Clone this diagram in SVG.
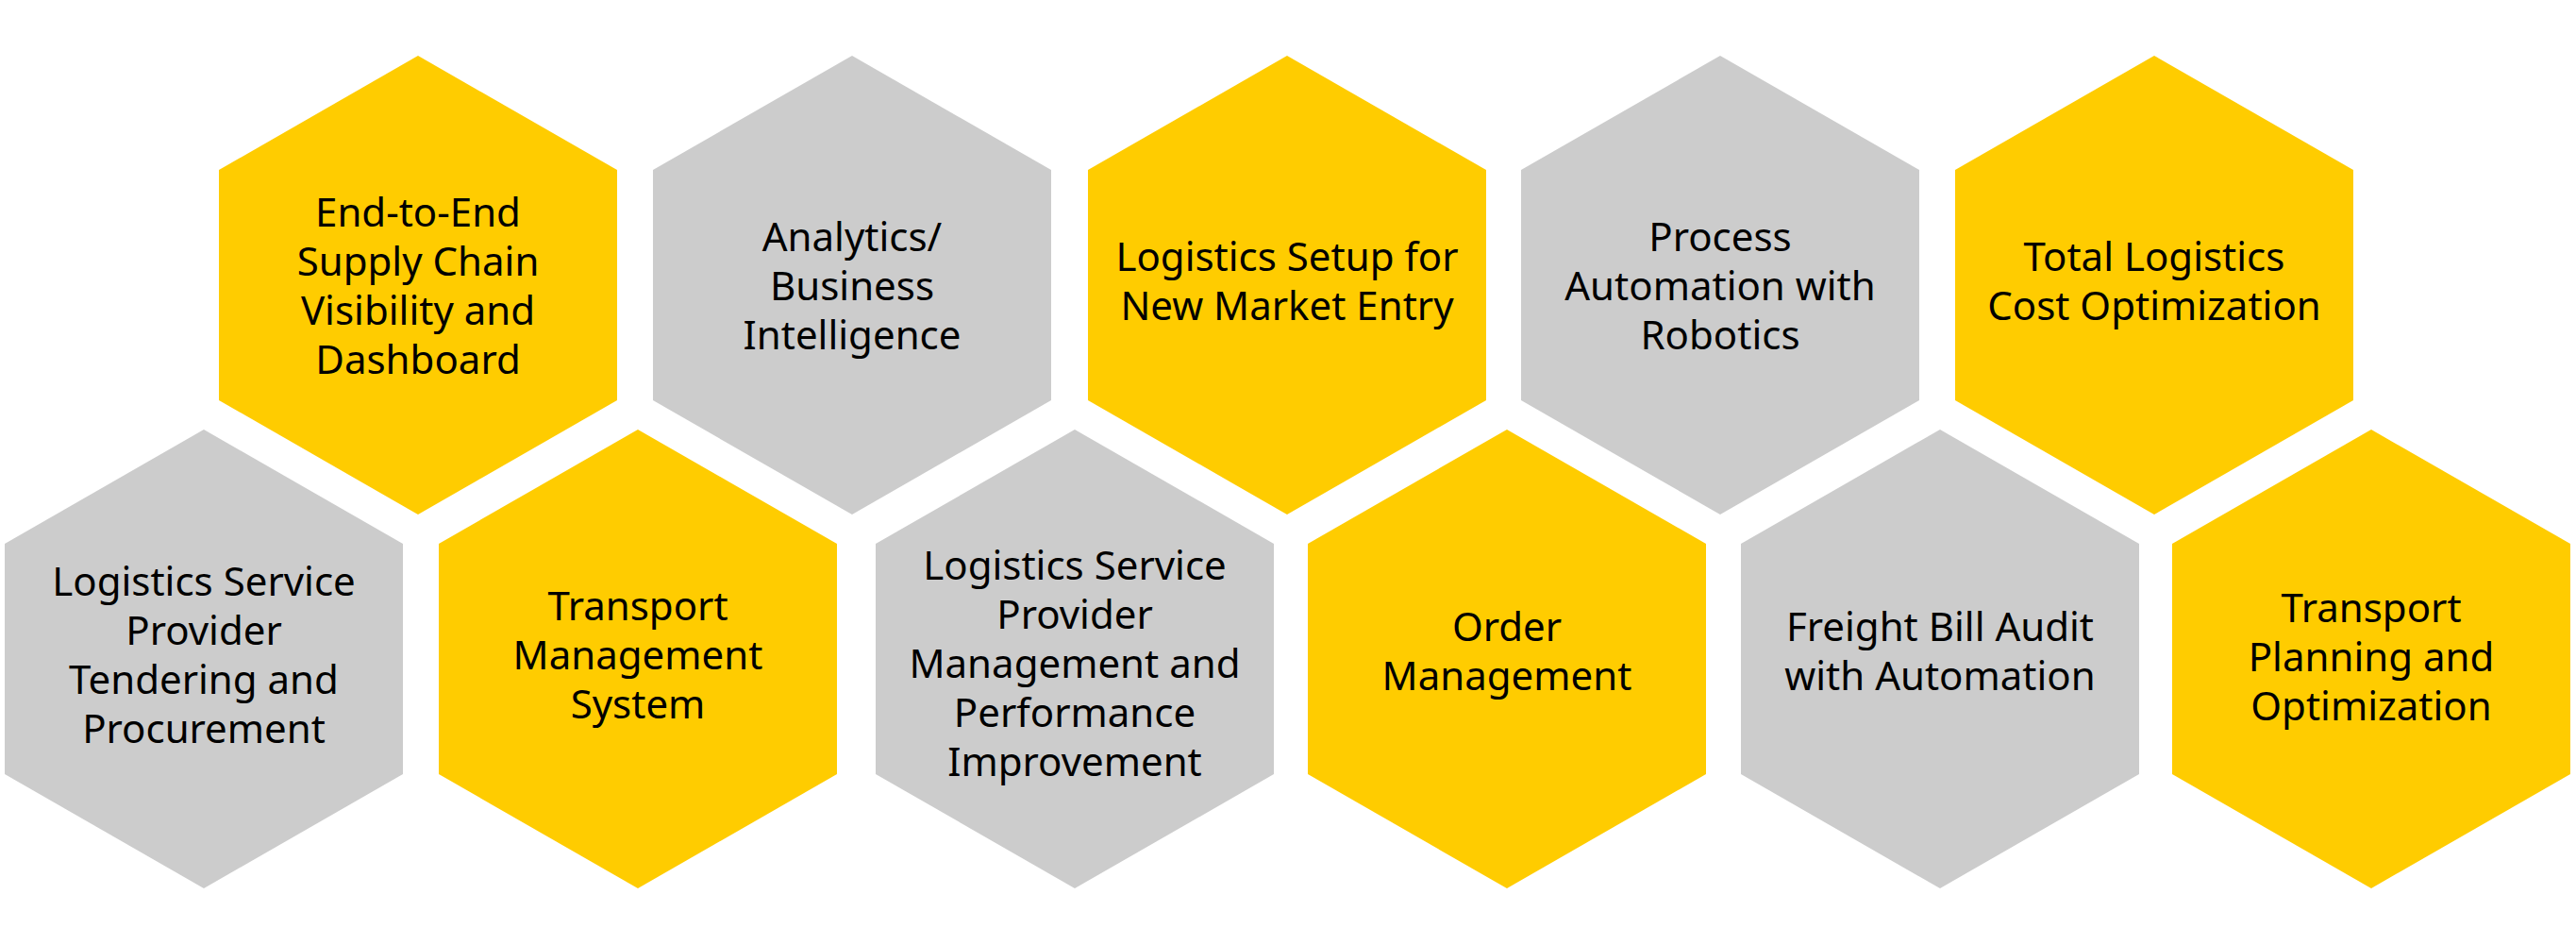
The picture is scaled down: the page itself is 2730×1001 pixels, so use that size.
<svg xmlns="http://www.w3.org/2000/svg" width="2730" height="1001" viewBox="0 0 2730 1001">
<style>
.y{fill:#FFCC00}
.g{fill:#CCCCCC}
text{font-family:"Noto Sans","Open Sans","Liberation Sans",sans-serif;font-size:42px;fill:#000;text-anchor:middle}
</style>
<defs>
<polygon id="hex" points="0,-243 211,-122 211,122 0,243 -211,122 -211,-122"/>
</defs>
<rect width="2730" height="1001" fill="#fff"/>
<g id="connectors"></g>
<g id="n1"><use href="#hex" class="y" x="443" y="302"/>
<text x="443" y="240"><tspan x="443">End-to-End</tspan><tspan x="443" dy="52">Supply Chain</tspan><tspan x="443" dy="52">Visibility and</tspan><tspan x="443" dy="52">Dashboard</tspan></text></g>
<g id="n2"><use href="#hex" class="g" x="903" y="302"/>
<text x="903" y="266"><tspan x="903">Analytics/</tspan><tspan x="903" dy="52">Business</tspan><tspan x="903" dy="52">Intelligence</tspan></text></g>
<g id="n3"><use href="#hex" class="y" x="1364" y="302"/>
<text x="1364" y="287"><tspan x="1364">Logistics Setup for</tspan><tspan x="1364" dy="52">New Market Entry</tspan></text></g>
<g id="n4"><use href="#hex" class="g" x="1823" y="302"/>
<text x="1823" y="266"><tspan x="1823">Process</tspan><tspan x="1823" dy="52">Automation with</tspan><tspan x="1823" dy="52">Robotics</tspan></text></g>
<g id="n5"><use href="#hex" class="y" x="2283" y="302"/>
<text x="2283" y="287"><tspan x="2283">Total Logistics</tspan><tspan x="2283" dy="52">Cost Optimization</tspan></text></g>
<g id="n6"><use href="#hex" class="g" x="216" y="698"/>
<text x="216" y="631"><tspan x="216">Logistics Service</tspan><tspan x="216" dy="52">Provider</tspan><tspan x="216" dy="52">Tendering and</tspan><tspan x="216" dy="52">Procurement</tspan></text></g>
<g id="n7"><use href="#hex" class="y" x="676" y="698"/>
<text x="676" y="657"><tspan x="676">Transport</tspan><tspan x="676" dy="52">Management</tspan><tspan x="676" dy="52">System</tspan></text></g>
<g id="n8"><use href="#hex" class="g" x="1139" y="698"/>
<text x="1139" y="614"><tspan x="1139">Logistics Service</tspan><tspan x="1139" dy="52">Provider</tspan><tspan x="1139" dy="52">Management and</tspan><tspan x="1139" dy="52">Performance</tspan><tspan x="1139" dy="52">Improvement</tspan></text></g>
<g id="n9"><use href="#hex" class="y" x="1597" y="698"/>
<text x="1597" y="679"><tspan x="1597">Order</tspan><tspan x="1597" dy="52">Management</tspan></text></g>
<g id="n10"><use href="#hex" class="g" x="2056" y="698"/>
<text x="2056" y="679"><tspan x="2056">Freight Bill Audit</tspan><tspan x="2056" dy="52">with Automation</tspan></text></g>
<g id="n11"><use href="#hex" class="y" x="2513" y="698"/>
<text x="2513" y="659"><tspan x="2513">Transport</tspan><tspan x="2513" dy="52">Planning and</tspan><tspan x="2513" dy="52">Optimization</tspan></text></g>
</svg>
